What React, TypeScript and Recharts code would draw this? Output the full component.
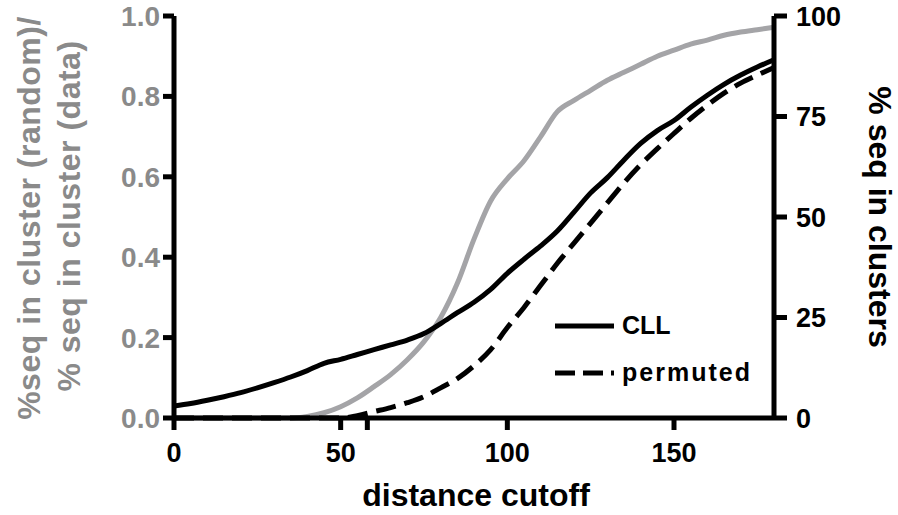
import { LineChart, Line, XAxis, YAxis, Legend } from 'recharts';

// distance cutoff values (x)
const distance = [0, 5, 10, 15, 20, 25, 30, 35, 40, 45, 50, 55, 60, 65, 70, 75, 80, 85, 90, 95, 100, 105, 110, 115, 120, 125, 130, 135, 140, 145, 150, 155, 160, 165, 170, 175, 180];

// %seq in cluster (random) / % seq in cluster (data) — left axis, grey
const ratio = [0, 0, 0, 0, 0, 0, 0, 0, 0.004, 0.013, 0.028, 0.05, 0.078, 0.108, 0.145, 0.19, 0.25, 0.335, 0.445, 0.54, 0.595, 0.64, 0.7, 0.762, 0.79, 0.815, 0.84, 0.86, 0.88, 0.9, 0.915, 0.93, 0.94, 0.952, 0.96, 0.966, 0.972];

// % seq in clusters — right axis
const cll = [3.0, 3.6, 4.4, 5.3, 6.3, 7.5, 8.8, 10.2, 11.8, 13.6, 14.6, 15.8, 17.0, 18.2, 19.4, 21.0, 23.5, 26.2, 28.8, 32.0, 36.0, 39.5, 42.8, 46.5, 51.2, 56.0, 59.8, 64.2, 68.3, 71.5, 74.0, 77.3, 80.3, 83.0, 85.3, 87.3, 89.1];
const permuted = [0, 0, 0, 0, 0, 0, 0, 0, 0, 0, 0, 0.6, 1.6, 2.6, 3.8, 5.3, 7.5, 9.8, 13.0, 17.0, 22.5, 27.5, 33.0, 38.5, 43.5, 48.5, 53.5, 58.5, 63.0, 67.0, 70.8, 74.5, 77.8, 80.8, 83.3, 85.3, 87.2];

const xTicks = [0, 50, 58, 100, 150];
const leftTicks = [0, 0.2, 0.4, 0.6, 0.8, 1.0];
const rightTicks = [0, 25, 50, 75, 100];

const data = distance.map((d, i) => ({
  distance: d,
  ratio: ratio[i],
  CLL: cll[i],
  permuted: permuted[i],
}));

const FONT = '"Liberation Sans", Arial, sans-serif';
const GREY_LINE = '#a4a4a7';
const GREY_TEXT = '#8a8a8a';

const legendItems = [
  { name: 'CLL', dash: undefined as string | undefined },
  { name: 'permuted', dash: '20 8' },
];

function renderLegend() {
  return (
    <div style={{ fontFamily: FONT, fontWeight: 'bold', fontSize: 25, textAlign: 'left' }}>
      {legendItems.map((it) => (
        <div key={it.name} style={{ display: 'flex', alignItems: 'center', height: 47 }}>
          <svg width={70} height={10}>
            <line x1={3} y1={5} x2={62} y2={5} stroke="#000" strokeWidth={5} strokeDasharray={it.dash} />
          </svg>
          <span style={{ letterSpacing: it.name === 'permuted' ? 2 : 0 }}>{it.name}</span>
        </div>
      ))}
    </div>
  );
}

export default function App() {
  const tickStyle = { fontFamily: FONT, fontWeight: 'bold' as const };
  return (
    <div style={{ position: 'absolute', left: 0, top: 0, width: 898, height: 515, background: '#fff' }}>
      <LineChart width={898} height={515} data={data} margin={{ top: 16, right: 0, left: 0, bottom: 0 }}>
        <XAxis
          dataKey="distance"
          type="number"
          domain={[0, 180]}
          ticks={xTicks}
          tickFormatter={(v: number) => (v === 58 ? '' : String(v))}
          height={97}
          axisLine={{ stroke: '#000', strokeWidth: 5 }}
          tickLine={{ stroke: '#000', strokeWidth: 5 }}
          tickSize={12}
          tickMargin={13}
          tick={{ ...tickStyle, fill: '#000', fontSize: 27 }}
          label={{
            content: () => (
              <text x={476} y={506} textAnchor="middle" fontFamily={FONT} fontWeight="bold" fontSize={32} fill="#000">
                distance cutoff
              </text>
            ),
          }}
        />
        <YAxis
          yAxisId="left"
          orientation="left"
          domain={[0, 1]}
          ticks={leftTicks}
          tickFormatter={(v: number) => v.toFixed(1)}
          width={174}
          axisLine={{ stroke: '#000', strokeWidth: 5 }}
          tickLine={{ stroke: '#000', strokeWidth: 5 }}
          tickSize={11}
          tickMargin={3}
          tick={{ ...tickStyle, fill: GREY_TEXT, fontSize: 28 }}
          label={{
            content: () => (
              <g fontFamily={FONT} fontWeight="bold" fontSize={32} fill={GREY_TEXT}>
                <text x={29} y={218} transform="rotate(-90 29 218)" textAnchor="middle" dominantBaseline="central" letterSpacing={0.5}>
                  %seq in cluster (random)/
                </text>
                <text x={69} y={216} transform="rotate(-90 69 216)" textAnchor="middle" dominantBaseline="central" letterSpacing={0.5}>
                  % seq in cluster (data)
                </text>
              </g>
            ),
          }}
        />
        <YAxis
          yAxisId="right"
          orientation="right"
          domain={[0, 100]}
          ticks={rightTicks}
          width={124}
          axisLine={{ stroke: '#000', strokeWidth: 5 }}
          tickLine={{ stroke: '#000', strokeWidth: 5 }}
          tickSize={13}
          tickMargin={9}
          tick={{ ...tickStyle, fill: '#000', fontSize: 27 }}
          label={{
            content: () => (
              <text x={880} y={217} transform="rotate(90 880 217)" textAnchor="middle" dominantBaseline="central" fontFamily={FONT} fontWeight="bold" fontSize={32} fill="#000">
                % seq in clusters
              </text>
            ),
          }}
        />
        <Legend
          layout="horizontal"
          verticalAlign="middle"
          align="center"
          content={renderLegend}
          wrapperStyle={{ left: 552, top: 302, width: 240 }}
        />
        <Line yAxisId="left" dataKey="ratio" stroke={GREY_LINE} strokeWidth={5} dot={false} type="monotone" isAnimationActive={false} legendType="none" />
        <Line yAxisId="right" dataKey="CLL" stroke="#000" strokeWidth={5} dot={false} type="monotone" isAnimationActive={false} />
        <Line yAxisId="right" dataKey="permuted" stroke="#000" strokeWidth={5} strokeDasharray="20 9" dot={false} type="monotone" isAnimationActive={false} />
      </LineChart>
    </div>
  );
}
